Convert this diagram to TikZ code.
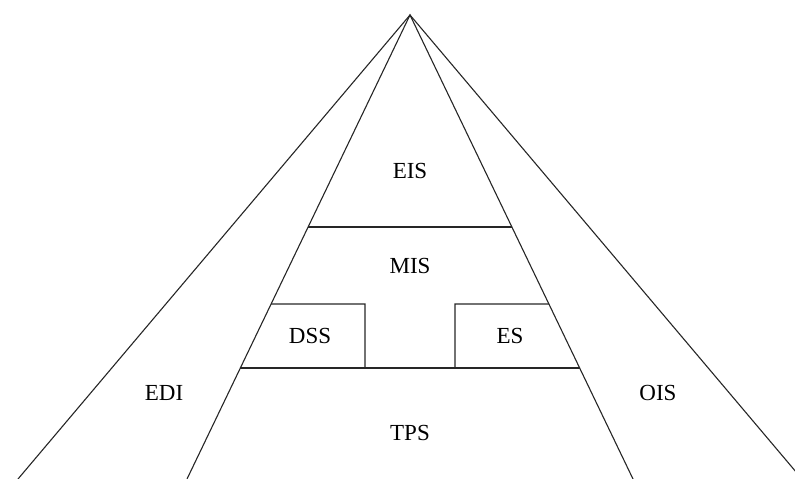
\documentclass[tikz,border=0pt]{standalone}
\usepackage{fontspec}
\setmainfont{Liberation Serif}
\usetikzlibrary{calc}
\begin{document}
\begin{tikzpicture}[x=1pt,y=-1pt,
  edge/.style={line width=1.1pt,black!85},
  lbl/.style={font=\fontsize{23}{27}\selectfont,inner sep=0pt}]
\useasboundingbox (0,0) rectangle (795,479);
\clip (0,0) rectangle (795,479);
% apex and the feet of the four slanted lines
\coordinate (apex) at (410,15);
\coordinate (outerL) at (18,479);
\coordinate (innerL) at (187,479);
\coordinate (innerR) at (633,479);
\coordinate (outerR) at (802,479);
\draw[edge] (outerL) -- (apex) -- (outerR);
\draw[edge] (innerL) -- (apex) -- (innerR);
% layer boundaries on the inner pyramid
\coordinate (eisL) at ($(apex)!0.4569!(innerL)$);
\coordinate (eisR) at ($(apex)!0.4569!(innerR)$);
\coordinate (midL) at ($(apex)!0.6228!(innerL)$);
\coordinate (midR) at ($(apex)!0.6228!(innerR)$);
\coordinate (tpsL) at ($(apex)!0.7608!(innerL)$);
\coordinate (tpsR) at ($(apex)!0.7608!(innerR)$);
\draw[edge] (eisL) -- (eisR);
\draw[edge] (tpsL) -- (tpsR);
% DSS and ES boxes
\coordinate (dssE) at (365,304);
\coordinate (esW) at (455,304);
\draw[edge] (midL) -- (dssE) -- (dssE |- tpsL);
\draw[edge] (midR) -- (esW) -- (esW |- tpsL);
% labels
\node[lbl] (eis) at (410,171) {EIS};
\node[lbl] (mis) at (410,266) {MIS};
\node[lbl] (dss) at (310,336) {DSS};
\node[lbl] (es)  at (510,336) {ES};
\node[lbl] (edi) at (164,393) {EDI};
\node[lbl] (ois) at (658,393) {OIS};
\node[lbl] (tps) at (410,433) {TPS};
\end{tikzpicture}
\end{document}
